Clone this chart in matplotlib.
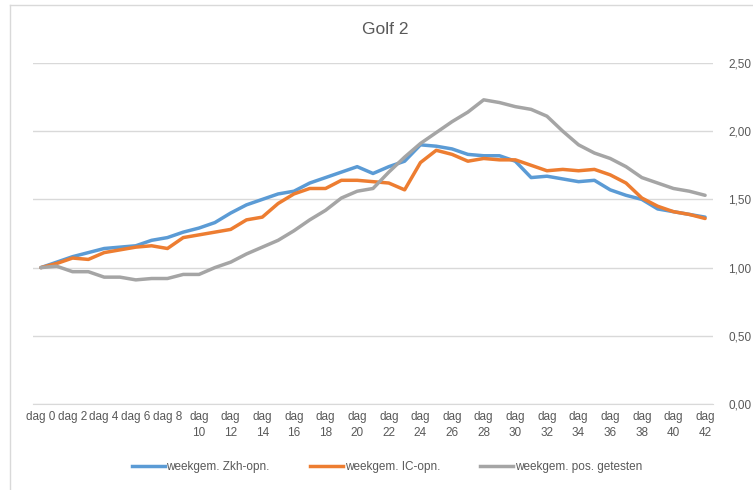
import matplotlib
matplotlib.use("Agg")
import matplotlib.pyplot as plt
from matplotlib.lines import Line2D
import numpy as np

plt.rcParams['font.family'] = ['Liberation Sans', 'DejaVu Sans']

days = list(range(0, 43))
zkh = [1.00, 1.04, 1.08, 1.11, 1.14, 1.15, 1.16, 1.20, 1.22, 1.26,
       1.29, 1.33, 1.40, 1.46, 1.50, 1.54, 1.56, 1.62, 1.66, 1.70,
       1.74, 1.69, 1.74, 1.78, 1.90, 1.89, 1.87, 1.83, 1.82, 1.82,
       1.78, 1.66, 1.67, 1.65, 1.63, 1.64, 1.57, 1.53, 1.50, 1.43,
       1.41, 1.39, 1.37]
ic = [1.00, 1.03, 1.07, 1.06, 1.11, 1.13, 1.15, 1.16, 1.14, 1.22,
      1.24, 1.26, 1.28, 1.35, 1.37, 1.47, 1.54, 1.58, 1.58, 1.64,
      1.64, 1.63, 1.62, 1.57, 1.77, 1.86, 1.83, 1.78, 1.80, 1.79,
      1.79, 1.75, 1.71, 1.72, 1.71, 1.72, 1.68, 1.62, 1.51, 1.45,
      1.41, 1.39, 1.36]
pos = [1.00, 1.01, 0.97, 0.97, 0.93, 0.93, 0.91, 0.92, 0.92, 0.95,
       0.95, 1.00, 1.04, 1.10, 1.15, 1.20, 1.27, 1.35, 1.42, 1.51,
       1.56, 1.58, 1.70, 1.81, 1.91, 1.99, 2.07, 2.14, 2.23, 2.21,
       2.18, 2.16, 2.11, 2.00, 1.90, 1.84, 1.80, 1.74, 1.66, 1.62,
       1.58, 1.56, 1.53]
series_names = ["weekgem. Zkh-opn.", "weekgem. IC-opn.", "weekgem. pos. getesten"]
colors = ["#5B9BD5", "#ED7D31", "#A5A5A5"]
yticks = [0.0, 0.5, 1.0, 1.5, 2.0, 2.5]
tick_days = list(range(0, 43, 2))
tick_labels = [f"dag {d}" if d < 10 else f"dag\n{d}" for d in tick_days]

W, H = 753, 490
fig = plt.figure(figsize=(W / 100, H / 100), dpi=100)
fig.patch.set_facecolor("white")

# chart border (top and left visible)
fig.add_artist(Line2D([10 / W, 10 / W], [0, 1 - 5 / H], transform=fig.transFigure,
                      color="#D9D9D9", lw=1.0))
fig.add_artist(Line2D([10 / W, 1], [1 - 5 / H, 1 - 5 / H], transform=fig.transFigure,
                      color="#D9D9D9", lw=1.0))

left, right = 33 / W, 713 / W
bottom, top = 1 - 404 / H, 1 - 63 / H
ax = fig.add_axes([left, bottom, right - left, top - bottom])

for vals, c in zip([zkh, ic, pos], colors):
    ax.plot(days, vals, color=c, lw=2.5, solid_capstyle="round", solid_joinstyle="round")

ax.set_xlim(-0.5, 42.5)
ax.set_ylim(0, 2.5)
ax.set_yticks(yticks)
ax.set_yticklabels([f"{v:.2f}".replace(".", ",") for v in yticks])
ax.yaxis.tick_right()
ax.grid(axis="y", color="#D9D9D9", lw=1.0)
ax.set_axisbelow(True)
for s in ["top", "right", "left"]:
    ax.spines[s].set_visible(False)
ax.spines["bottom"].set_color("#D9D9D9")
ax.tick_params(axis="y", length=0, pad=11, labelsize=8.5, labelcolor="#595959")
ax.set_xticks(tick_days)
ax.set_xticklabels(tick_labels, linespacing=1.4)
ax.tick_params(axis="x", length=0, pad=5, labelsize=8.5, labelcolor="#595959")

fig.text(385 / W, 1 - 30 / H, "Golf 2", ha="center", va="center", fontsize=12.5,
         color="#595959")

handles = [Line2D([0], [0], color=c, lw=2.5) for c in colors]
fig.legend(handles, series_names, loc="center", bbox_to_anchor=(387 / W, 1 - 467 / H),
           ncol=3, frameon=False, fontsize=8.5, labelcolor="#595959",
           handlelength=2.8, handletextpad=0.15, columnspacing=3.4)

fig.savefig("out.png", dpi=100)
